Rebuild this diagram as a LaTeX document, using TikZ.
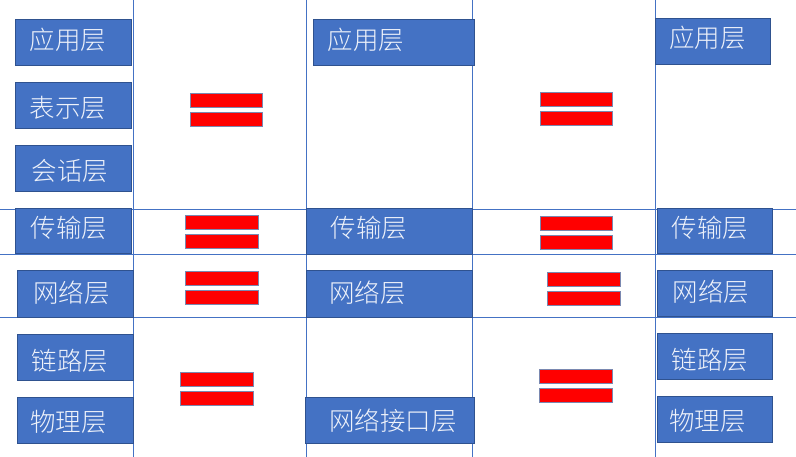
\documentclass[tikz,border=0pt]{standalone}
\usepackage{fontspec}
\newfontfamily\cjk{Noto Sans CJK SC Light}
\definecolor{boxblue}{HTML}{4472C4}
\definecolor{boxedge}{HTML}{2F528F}
\definecolor{baredge}{HTML}{7A88B0}
\definecolor{txt}{HTML}{EEF2FA}
\tikzset{
  gridline/.style={draw=boxblue, line width=0.9pt},
  layerbox/.style={fill=boxblue, draw=boxedge, line width=1pt},
  lbl/.style={text=txt, font=\cjk\fontsize{25.5}{25.5}\selectfont, inner sep=0pt, anchor=base west},
  eqbar/.style={fill=red, draw=baredge, line width=0.9pt},
}
% name x1 y1 x2 y2 textx textcentery text
\newcommand{\mylayer}[8]{%
  \path[layerbox] (#2,#3) rectangle (#4,#5);
  \node[lbl] (#1) at (#6-1,#7+9.7) {#8};
}
% x1 bar1top bar1bottom bar2top bar2bottom x2
\newcommand{\myeq}[6]{%
  \path[eqbar] (#1,#2) rectangle (#6,#3);
  \path[eqbar] (#1,#4) rectangle (#6,#5);
}
\begin{document}
\begin{tikzpicture}[x=1pt,y=-1pt]
\path[use as bounding box] (0,0) rectangle (796,457);
% grid lines
\coordinate (v1t) at (133,0);   \coordinate (v1b) at (133,457);
\coordinate (v2t) at (306.5,0); \coordinate (v2b) at (306.5,457);
\coordinate (v3t) at (472.5,0); \coordinate (v3b) at (472.5,457);
\coordinate (v4t) at (655.5,0); \coordinate (v4b) at (655.5,457);
\coordinate (h1l) at (0,209);   \coordinate (h1r) at (796,209);
\coordinate (h2l) at (0,254.5); \coordinate (h2r) at (796,254.5);
\coordinate (h3l) at (0,317);   \coordinate (h3r) at (796,317);
\draw[gridline] (v1t) -- (v1b);
\draw[gridline] (v2t) -- (v2b);
\draw[gridline] (v3t) -- (v3b);
\draw[gridline] (v4t) -- (v4b);
\draw[gridline] (h1l) -- (h1r);
\draw[gridline] (h2l) -- (h2r);
\draw[gridline] (h3l) -- (h3r);
% left column (OSI)
\mylayer{a1}{15.3}{19.3}{131.7}{65.3}{30.7}{39.5}{应用层}
\mylayer{a2}{15.3}{82.3}{131.7}{128.3}{30.7}{107.5}{表示层}
\mylayer{a3}{15.3}{145.3}{131.7}{191.7}{32.3}{170.5}{会话层}
\mylayer{a4}{15.3}{208.3}{131.7}{254}{31.7}{228.3}{传输层}
\mylayer{a5}{17.3}{271}{133.3}{317.3}{34}{293.3}{网络层}
\mylayer{a6}{17.3}{334.3}{133.3}{380.7}{32.7}{361}{链路层}
\mylayer{a7}{17.3}{397.3}{133.3}{443.3}{31}{421.7}{物理层}
% middle column (TCP/IP)
\mylayer{b1}{313.3}{19.3}{474.7}{65.3}{328.7}{39.5}{应用层}
\mylayer{b2}{306.7}{208.3}{472.7}{254.3}{331.7}{228.3}{传输层}
\mylayer{b3}{306.7}{271}{472.7}{317.3}{330}{293}{网络层}
\mylayer{b4}{305.3}{397.3}{474.7}{443.3}{330}{421}{网络接口层}
% right column (five layer)
\mylayer{c1}{655.3}{18.3}{770.7}{64.3}{670}{38}{应用层}
\mylayer{c2}{657.3}{208.3}{772.3}{254}{672.7}{228.3}{传输层}
\mylayer{c3}{657.3}{270.3}{772.3}{316.7}{673.3}{292.3}{网络层}
\mylayer{c4}{657.3}{333.3}{772.3}{379.7}{672.7}{360}{链路层}
\mylayer{c5}{657.3}{396.3}{772.3}{442.3}{670}{420.3}{物理层}
% equals signs
\myeq{190}{93.3}{107}{112.7}{126.7}{262}
\myeq{540}{92.3}{106}{111.7}{125.7}{612}
\myeq{185.7}{215.3}{229}{234.7}{248.7}{258.3}
\myeq{185.7}{271}{285}{290.7}{304.7}{258.3}
\myeq{540}{216}{230}{235.7}{249.7}{612.3}
\myeq{547.7}{272}{286}{291.7}{305.7}{620.3}
\myeq{180.3}{372}{386}{391.3}{405.7}{253.3}
\myeq{539.3}{369}{383}{388.3}{402.3}{612.3}
\end{tikzpicture}
\end{document}
